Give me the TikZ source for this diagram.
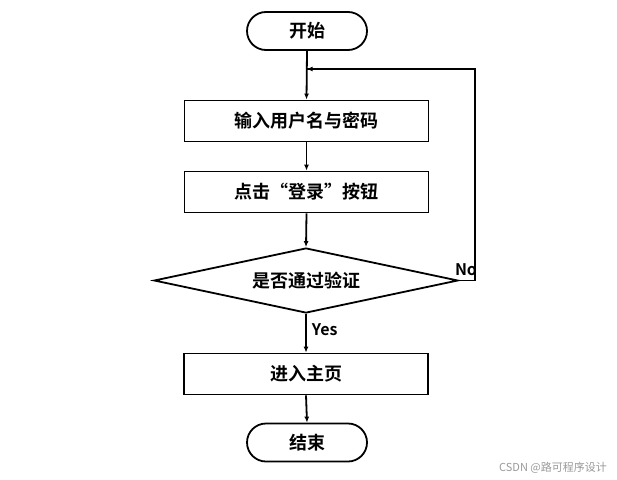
\documentclass[tikz,border=0pt]{standalone}
\usepackage{fontspec}
\setmainfont{Liberation Sans}
\newfontfamily\cjk{Noto Sans CJK SC}[BoldFont={Noto Sans CJK SC Bold}]
\usetikzlibrary{shapes.geometric,arrows.meta}
\begin{document}
\begin{tikzpicture}[x=1pt,y=-1pt,
  every node/.style={font=\cjk\bfseries\fontsize{18}{20}\selectfont},
  termbox/.style={draw,line width=1.8pt,rectangle,rounded corners=19pt,minimum width=120pt,minimum height=38pt,inner sep=0pt},
  procbox/.style={draw,line width=1.8pt,rectangle,minimum width=244pt,minimum height=41pt,inner sep=0pt},
  decbox/.style={draw,line width=1.8pt,diamond,aspect=4.68,minimum width=304pt,minimum height=65pt,inner sep=0pt},
  flow/.style={line width=1.8pt,-{Latex[length=6pt,width=5pt]}},
  lbl/.style={font=\cjk\bfseries\fontsize{16}{18}\selectfont,inner sep=0pt}
]
\useasboundingbox (0,0) rectangle (617,479);
\node[termbox] (start) at (307,31) {开始};
\node[procbox] (in) at (306.5,121) {输入用户名与密码};
\node[procbox] (click) at (306.5,192) {点击“登录”按钮};
\node[decbox] (dec) at (306,280.5) {是否通过验证};
\node[procbox] (home) at (306,374) {进入主页};
\node[termbox] (end) at (307,442.5) {结束};
\coordinate (fb) at (306.5,69);
\coordinate (rt) at (475,280.5);
\draw[flow] (start.south) -- (in.north);
\draw[line width=1.8pt] (dec.east) -- (rt) |- (fb);
\draw[flow] (rt |- fb) -- (fb);
\draw[flow] (in.south) -- (click.north);
\draw[flow] (click.south) -- (dec.north);
\draw[flow] (dec.south) -- node[lbl,right=5pt,pos=0.4] (yes) {Yes} (home.north);
\draw[flow] (home.south) -- (end.north);
\node[lbl] (no) at (466,270) {No};
\node[font=\cjk\fontsize{11}{12}\selectfont,text=black!40,inner sep=0pt] (wm) at (553,468) {CSDN @路可程序设计};
\end{tikzpicture}
\end{document}
